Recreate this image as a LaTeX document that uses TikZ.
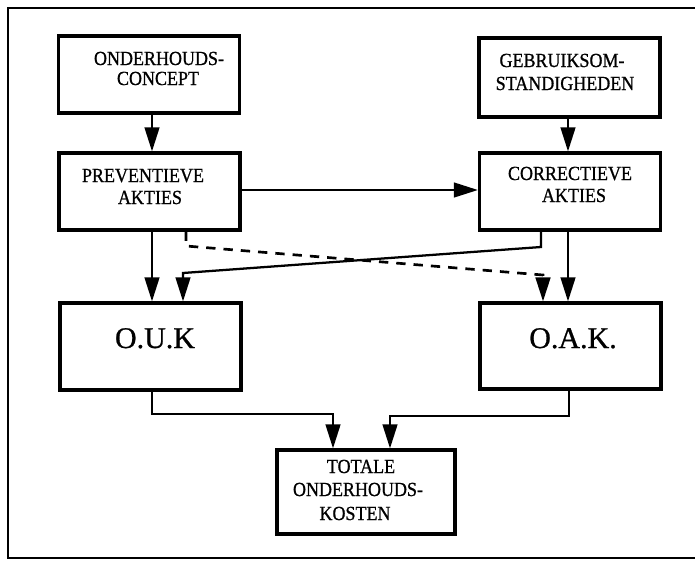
\documentclass[tikz,border=0pt]{standalone}
\usepackage{fontspec}
\setmainfont{Liberation Serif}
\newfontfamily\condfont[FakeStretch=0.9,FakeBold=0.8]{Liberation Serif}
\newfontfamily\labelfont[FakeBold=0.8]{Liberation Serif}
\usetikzlibrary{arrows.meta}
\begin{document}
\begin{tikzpicture}[x=0.75pt,y=-0.75pt,
  box/.style={draw, line width=2.4pt, inner sep=0pt, minimum width=135.75pt},
  txt/.style={anchor=base, inner sep=0pt, font=\condfont\fontsize{15}{18}\selectfont},
  big/.style={anchor=base, inner sep=0pt, font=\labelfont\fontsize{22.5}{27}\selectfont},
  link/.style={line width=1.7pt, -{Triangle[length=18pt,width=11pt]}},
  dlink/.style={link, line width=2pt, dash pattern=on 7pt off 6pt},
  frame/.style={line width=1.2pt}]

% page and outer frame
\fill[white] (0,0) rectangle (695,561);
\useasboundingbox (0,0) rectangle (695,561);
\draw[frame] (695,8) -- (8,8) -- (8,558) -- (695,558);

% boxes
\node[box, minimum height=57.75pt] (oc)  at (149,74.5) {};
\node[box, minimum height=57.75pt] (pa)  at (149.5,191.5) {};
\node[box, minimum height=59.25pt] (gs)  at (569.5,77.5) {};
\node[box, minimum height=57.75pt] (ca)  at (570,191.5) {};
\node[box, minimum height=65.25pt] (ouk) at (150.5,346.5) {};
\node[box, minimum height=64.5pt]  (oak) at (570.5,346) {};
\node[box, minimum height=63pt, minimum width=133.5pt] (tot) at (366,492) {};

% box texts
\node[txt] (oc1) at (159,65) {ONDERHOUDS-};
\node[txt] (oc2) at (158,85) {CONCEPT};
\node[txt] (pa1) at (143,182) {PREVENTIEVE};
\node[txt] (pa2) at (150,204) {AKTIES};
\node[txt] (gs1) at (562,67) {GEBRUIKSOM-};
\node[txt] (gs2) at (565,90) {STANDIGHEDEN};
\node[txt] (ca1) at (570,180) {CORRECTIEVE};
\node[txt] (ca2) at (574,202) {AKTIES};
\node[big] (ouk1) at (155,348) {O.U.K};
\node[big] (oak1) at (573,348) {O.A.K.};
\node[txt] (tot1) at (361,473) {TOTALE};
\node[txt] (tot2) at (358,496) {ONDERHOUDS-};
\node[txt] (tot3) at (355,520) {KOSTEN};

% lanes and bends
\coordinate (la) at (152,0);
\coordinate (le) at (568,0);
\coordinate (hy) at (0,190);
\coordinate (cb1) at (541,247);
\coordinate (cb2) at (183,273);
\coordinate (pb1) at (186,246);
\coordinate (pb2) at (543,275);
\coordinate (ob) at (152,414);
\coordinate (tl) at (333,414);
\coordinate (ab) at (569,416);
\coordinate (tr) at (390,416);

% connectors
\draw[link] (oc.south -| la) -- (pa.north -| la);
\draw[link] (gs.south -| le) -- (ca.north -| le);
\draw[link] (pa.east |- hy) -- (ca.west |- hy);
\draw[link] (pa.south -| la) -- (ouk.north -| la);
\draw[link] (ca.south -| le) -- (oak.north -| le);
\draw[link] (ca.south -| cb1) -- (cb1) -- (cb2) -- (ouk.north -| cb2);
\draw[dlink] (pa.south -| pb1) -- (pb1) -- (pb2) -- (oak.north -| pb2);
\draw[link] (ouk.south -| ob) -- (ob) -- (tl) -- (tot.north -| tl);
\draw[link] (oak.south -| ab) -- (ab) -- (tr) -- (tot.north -| tr);
\end{tikzpicture}
\end{document}
